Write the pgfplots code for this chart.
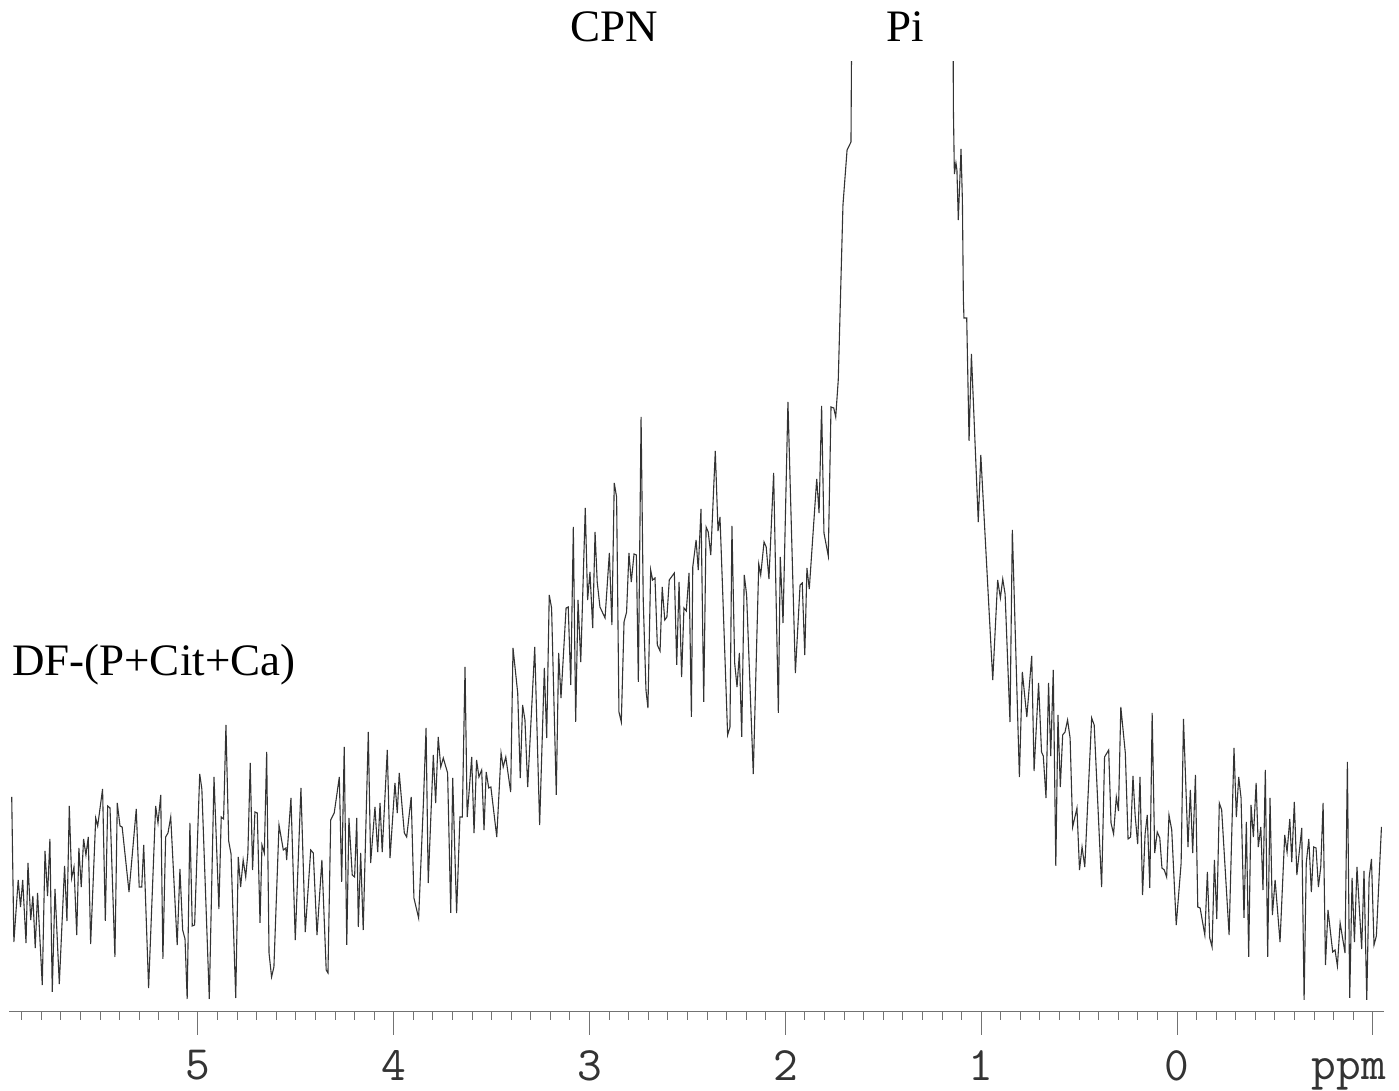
\documentclass[border=0pt]{standalone}
\usepackage{pgfplots}
\pgfplotsset{compat=1.18}
\usepackage{pgfplotstable}
\usepackage{fontspec}
\setmainfont{Liberation Serif}

\pgfplotstableread{
x y
5.951 215
5.940 70
5.918 132
5.906 105
5.895 132
5.878 69
5.868 149
5.854 92
5.843 116
5.831 64
5.819 119
5.795 27
5.781 161
5.768 116
5.756 173
5.744 20
5.730 123
5.708 28
5.681 146
5.669 91
5.657 206
5.645 134
5.633 145
5.619 77
5.608 164
5.596 125
5.584 173
5.572 157
5.560 175
5.548 68
5.522 194
5.512 186
5.487 223
5.473 91
5.461 206
5.449 204
5.424 55
5.412 209
5.398 186
5.387 185
5.352 120
5.315 203
5.300 125
5.287 125
5.277 167
5.252 24
5.216 206
5.204 189
5.190 217
5.179 53
5.165 175
5.153 179
5.139 195
5.106 67
5.092 143
5.078 82
5.066 73
5.055 13
5.041 189
5.029 86
5.017 87
4.991 238
4.980 223
4.942 13
4.918 235
4.893 103
4.881 195
4.869 193
4.857 287
4.843 171
4.831 158
4.807 14
4.794 155
4.782 125
4.769 152
4.756 135
4.745 159
4.733 249
4.721 142
4.709 200
4.697 199
4.683 89
4.673 167
4.661 159
4.649 260
4.637 59
4.624 35
4.612 45
4.586 187
4.564 162
4.551 164
4.547 152
4.525 214
4.503 72
4.474 224
4.452 80
4.424 162
4.411 159
4.392 77
4.367 152
4.345 42
4.336 39
4.322 192
4.304 199
4.278 235
4.266 130
4.253 265
4.240 67
4.229 194
4.212 137
4.200 135
4.189 194
4.181 85
4.169 159
4.156 82
4.130 280
4.118 149
4.096 205
4.082 160
4.070 209
4.059 160
4.033 262
4.019 154
3.994 229
3.982 199
3.972 239
3.946 179
3.934 175
3.911 215
3.897 114
3.873 94
3.849 207
3.835 284
3.824 129
3.798 257
3.786 209
3.773 275
3.760 245
3.747 254
3.725 239
3.709 99
3.699 234
3.679 99
3.662 195
3.650 195
3.636 345
3.625 195
3.602 255
3.590 179
3.577 252
3.565 235
3.551 242
3.539 182
3.528 240
3.515 224
3.504 225
3.474 175
3.452 259
3.441 245
3.428 255
3.403 220
3.391 364
3.367 319
3.354 234
3.342 307
3.330 292
3.316 225
3.280 365
3.255 187
3.231 344
3.219 274
3.206 417
3.194 404
3.170 217
3.158 359
3.146 314
3.120 404
3.109 405
3.096 327
3.083 485
3.071 290
3.059 412
3.045 350
3.022 504
3.010 412
2.998 440
2.984 384
2.972 480
2.961 430
2.947 405
2.921 394
2.899 459
2.886 387
2.874 529
2.862 515
2.850 300
2.838 290
2.824 390
2.811 400
2.799 459
2.787 430
2.773 458
2.761 457
2.751 330
2.737 595
2.726 412
2.712 322
2.702 304
2.688 442
2.678 432
2.666 434
2.654 367
2.640 361
2.629 425
2.616 392
2.605 395
2.593 432
2.567 439
2.555 347
2.543 430
2.530 335
2.518 404
2.506 401
2.492 439
2.480 295
2.473 445
2.456 472
2.445 442
2.431 503
2.417 310
2.405 485
2.394 480
2.381 457
2.358 561
2.344 481
2.334 495
2.320 419
2.295 277
2.283 285
2.273 486
2.259 349
2.247 325
2.235 359
2.223 275
2.210 437
2.198 417
2.164 238
2.136 448
2.126 437
2.109 470
2.098 465
2.084 433
2.060 539
2.036 299
2.026 455
2.012 389
1.987 610
1.949 339
1.925 427
1.914 429
1.901 357
1.890 444
1.878 423
1.840 533
1.828 499
1.815 606
1.803 479
1.781 456
1.767 605
1.753 604
1.743 595
1.730 632
1.706 807
1.685 862
1.665 870
1.655 1200
1.400 1500
1.148 1200
1.142 903
1.137 838
1.129 849
1.124 842
1.117 792
1.103 863
1.096 811
1.091 712
1.088 694
1.074 694
1.062 571
1.050 658
1.015 490
1.002 557
0.941 332
0.916 432
0.902 414
0.890 433
0.878 418
0.853 290
0.841 482
0.805 235
0.790 340
0.767 295
0.742 356
0.730 241
0.707 329
0.692 260
0.683 256
0.669 214
0.656 329
0.645 256
0.632 342
0.619 146
0.608 297
0.596 225
0.584 277
0.572 280
0.559 292
0.546 274
0.533 185
0.511 204
0.498 142
0.485 165
0.471 145
0.436 294
0.423 287
0.385 125
0.370 255
0.349 262
0.337 189
0.324 178
0.310 215
0.299 201
0.287 305
0.264 259
0.250 173
0.237 175
0.225 236
0.214 197
0.201 168
0.189 235
0.176 117
0.163 178
0.152 197
0.139 124
0.127 299
0.114 159
0.101 180
0.088 174
0.077 144
0.065 142
0.053 135
0.041 197
0.027 182
0.004 87
-0.021 149
-0.033 293
-0.056 165
-0.068 222
-0.080 159
-0.094 237
-0.106 105
-0.118 104
-0.142 77
-0.155 140
-0.167 74
-0.179 65
-0.191 152
-0.203 93
-0.216 209
-0.228 202
-0.266 77
-0.291 264
-0.303 195
-0.315 235
-0.327 214
-0.342 94
-0.354 190
-0.366 55
-0.378 207
-0.390 175
-0.404 229
-0.415 165
-0.428 185
-0.439 122
-0.451 242
-0.463 55
-0.475 214
-0.487 97
-0.501 132
-0.526 70
-0.550 177
-0.562 160
-0.576 193
-0.586 150
-0.599 210
-0.612 137
-0.637 184
-0.649 12
-0.660 149
-0.673 173
-0.686 120
-0.698 165
-0.710 164
-0.722 125
-0.734 145
-0.746 209
-0.758 47
-0.771 102
-0.795 60
-0.807 62
-0.819 46
-0.833 89
-0.858 59
-0.870 250
-0.882 14
-0.894 134
-0.906 70
-0.919 145
-0.943 63
-0.955 141
-0.969 12
-0.981 134
-0.993 153
-1.006 67
-1.018 76
-1.044 185
}\spectrum

\begin{document}
\begin{tikzpicture}
\begin{axis}[
  scale only axis, width=1375pt, height=950pt,
  xmin=-1.057, xmax=5.965, ymin=0, ymax=950,
  x dir=reverse,
  axis x line*=bottom, axis y line=none,
  axis line style={black!55, line width=1pt},
  xtick={-1,0,1,2,3,4,5},
  xticklabels={,0,1,2,3,4,5},
  minor xtick={-0.9,-0.8,...,5.95},
  tick align=outside,
  major tick length=23pt, minor tick length=8pt,
  tick style={black!55, line width=1pt},
  xticklabel style={font=\ttfamily\fontsize{48}{48}\selectfont, inner sep=0pt, yshift=-15pt, text=black!80},
  clip mode=individual,
]
\addplot[black!80, line width=1.1pt] table[x=x,y=y]{\spectrum};
\node[anchor=base, inner sep=0pt, font=\fontsize{45}{45}\selectfont] at (axis cs:2.875,970) {CPN};
\node[anchor=base, inner sep=0pt, font=\fontsize{45}{45}\selectfont] at (axis cs:1.389,970) {Pi};
\node[anchor=base west, inner sep=0pt, font=\fontsize{45}{45}\selectfont] at (axis cs:5.950,336) {DF-(P+Cit+Ca)};
\node[anchor=base east, inner sep=0pt, text=black!80, font=\ttfamily\fontsize{48}{48}\selectfont] at ([yshift=-68pt,xshift=2pt]axis cs:-1.057,0) {ppm};
\coordinate (A) at (axis cs:5.965,0);
\coordinate (B) at (axis cs:-1.057,950);
\end{axis}
\path ([shift={(-9pt,-79pt)}]A) rectangle ([shift={(15pt,62pt)}]B);
\end{tikzpicture}
\end{document}
